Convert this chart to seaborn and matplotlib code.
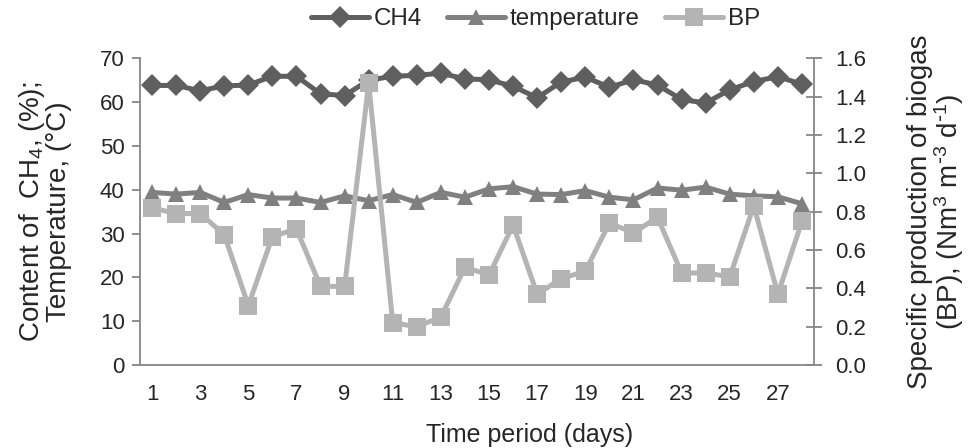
import numpy as np
import pandas as pd
import matplotlib
matplotlib.use("Agg")
import matplotlib.pyplot as plt
import seaborn as sns
from matplotlib.ticker import FixedLocator

days = list(range(1, 29))
ch4 = [63.8, 63.8, 62.6, 63.7, 63.9, 65.9, 65.9, 61.9, 61.5, 65.0,
       65.9, 66.1, 66.6, 65.3, 65.1, 63.6, 61.0, 64.6, 65.7, 63.4,
       65.1, 63.9, 60.6, 59.8, 62.8, 64.7, 65.8, 64.1]
temperature = [39.4, 39.0, 39.4, 37.1, 38.9, 38.1, 38.1, 37.1, 38.6, 37.5,
               38.9, 37.1, 39.4, 38.3, 40.2, 40.7, 39.0, 38.9, 39.8, 38.3,
               37.7, 40.4, 39.9, 40.6, 39.0, 38.6, 38.4, 36.8]
bp = [0.82, 0.79, 0.79, 0.68, 0.31, 0.67, 0.71, 0.41, 0.41, 1.47,
      0.22, 0.20, 0.25, 0.51, 0.47, 0.73, 0.37, 0.45, 0.49, 0.74,
      0.69, 0.77, 0.48, 0.48, 0.46, 0.83, 0.37, 0.75]
x_labels = [str(d) for d in range(1, 29, 2)]

df = pd.DataFrame({"day": days, "CH4": ch4, "temperature": temperature, "BP": bp})

sns.set_theme(style="white")
plt.rcParams["font.family"] = ["Liberation Sans", "DejaVu Sans"]
plt.rcParams["mathtext.default"] = "regular"

c_ch4 = "#5f5f5f"
c_temp = "#808080"
c_bp = "#b4b4b4"
axis_c = "#868686"

fig = plt.figure(figsize=(9.7, 4.48), dpi=100)
ax = fig.add_axes([140/970, 1-365/448, (814-140)/970, (365-58.3)/448])
ax2 = ax.twinx()

sns.lineplot(data=df, x="day", y="CH4", ax=ax, color=c_ch4, lw=3.6, marker="D",
             markersize=11, markeredgewidth=0, label="CH4", legend=False)
sns.lineplot(data=df, x="day", y="temperature", ax=ax, color=c_temp, lw=3.6, marker="^",
             markersize=12, markeredgewidth=0, label="temperature", legend=False)
sns.lineplot(data=df, x="day", y="BP", ax=ax2, color=c_bp, lw=3.6, marker="s",
             markersize=12.5, markeredgewidth=0, label="BP", legend=False)

ax.set_xlim(0.5, 28.5)
ax.set_ylim(0, 70)
ax2.set_ylim(0, 1.6)
ax.set_yticks(np.arange(0, 71, 10))
ax2.set_yticks(np.arange(0, 1.61, 0.2))
ax2.set_yticklabels([f"{v:.1f}" for v in np.arange(0, 1.61, 0.2)])

ax.xaxis.set_major_locator(FixedLocator(list(range(1, 29, 2))))
ax.set_xticklabels(x_labels)
ax.xaxis.set_minor_locator(FixedLocator(list(np.arange(0.5, 29, 1.0))))
ax.tick_params(axis="x", which="major", length=0, pad=14, labelsize=16)
ax.tick_params(axis="x", which="minor", length=6, width=1.3, color=axis_c, direction="out")
ax.tick_params(axis="y", length=6, width=1.3, color=axis_c, direction="out", labelsize=16, pad=5)
ax2.tick_params(axis="y", length=12, width=1.3, color=axis_c, direction="inout", labelsize=16, pad=9)

for a in (ax, ax2):
    a.spines["top"].set_visible(False)
    for s in ("left", "right", "bottom"):
        a.spines[s].set_color(axis_c)
        a.spines[s].set_linewidth(1.3)
ax.spines["right"].set_visible(False)
ax2.spines["left"].set_visible(False)
ax2.spines["bottom"].set_visible(False)

ax.set_xlabel("Time period (days)", fontsize=18, labelpad=12)
ax.xaxis.set_label_coords(0.578, -0.19)
ax.set_ylabel("Content of  CH$_4$, (%);\nTemperature, (°C)", fontsize=20, labelpad=20,
              linespacing=0.95)
ax2.set_ylabel("Specific production of biogas\n(BP), (Nm$^3$ m$^{\\text{-}3}$ d$^{\\text{-}1}$)",
               fontsize=20, rotation=90, labelpad=30, linespacing=0.95)
ax.grid(False)
ax2.grid(False)

h1, l1 = ax.get_legend_handles_labels()
h2, l2 = ax2.get_legend_handles_labels()
fig.legend(h1 + h2, l1 + l2, loc="upper center", bbox_to_anchor=(0.552, 1.03), ncol=3,
           frameon=False, fontsize=17.4, handlelength=2.4, columnspacing=1.05, handletextpad=0.2)

fig.savefig("out.png", dpi=100)
